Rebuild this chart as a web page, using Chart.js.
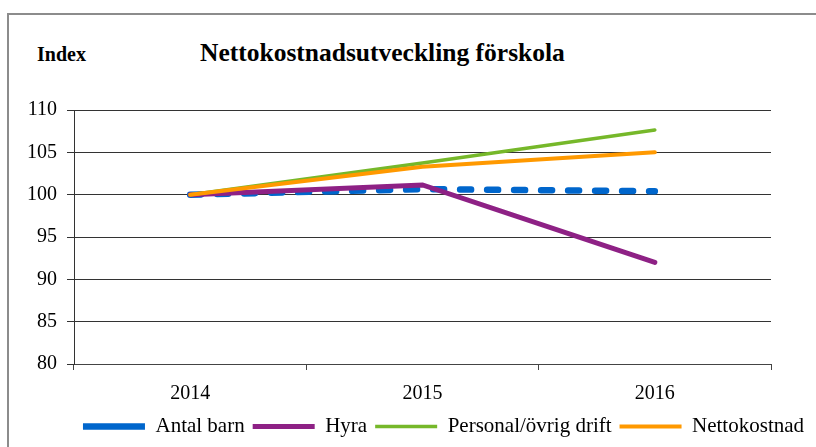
<!DOCTYPE html>
<html>
<head>
<meta charset="utf-8">
<script src="https://cdn.jsdelivr.net/npm/chart.js@4"></script>
<style>
  html, body { margin: 0; padding: 0; background: #fff; overflow: hidden; }
  #wrap { position: relative; width: 816px; height: 447px; }
  #frame { position: absolute; left: 7px; top: 13px; width: 900px; height: 500px; border: 2px solid #8c8c8c; }
  #index { position: absolute; left: 37px; top: 43px; font-family: "Liberation Serif", serif; font-weight: bold; font-size: 20px; }
  #title { position: absolute; left: 200px; top: 38px; font-family: "Liberation Serif", serif; font-weight: bold; font-size: 25.5px; white-space: nowrap; }
  canvas { position: absolute; left: 0; top: 0; }
</style>
</head>
<body>
<div id="wrap">
  <div id="frame"></div>
  <div id="index">Index</div>
  <div id="title">Nettokostnadsutveckling förskola</div>
  <canvas id="chart" width="816" height="447"></canvas>
</div>
<script>
// data
const years = ["2014", "2015", "2016"];
const antalBarn = [100, 100.65, 100.4];
const hyra = [100, 101.15, 92.0];
const personal = [100, 103.75, 107.65];
const nettokostnad = [100, 103.3, 105.0];

const serif = "'Liberation Serif', 'Times New Roman', serif";

// legend sits a bit right of the plot centre in the original
const shiftLegend = {
  id: "shiftLegend",
  afterLayout(chart) {
    chart.legend.left += 58;
    chart.legend.right += 58;
  }
};

const ctx = document.getElementById("chart");
new Chart(ctx, {
  type: "line",
  data: {
    labels: years,
    datasets: [
      { label: "Antal barn", data: antalBarn, borderColor: "#0066cc", backgroundColor: "#0066cc",
        borderWidth: 6.5, borderDash: [11, 16], borderCapStyle: "round", order: 4 },
      { label: "Hyra", data: hyra, borderColor: "#8e2185", backgroundColor: "#8e2185",
        borderWidth: 5, borderCapStyle: "round", order: 3 },
      { label: "Personal/övrig drift", data: personal, borderColor: "#76b82a", backgroundColor: "#76b82a",
        borderWidth: 3.5, borderCapStyle: "round", order: 2 },
      { label: "Nettokostnad", data: nettokostnad, borderColor: "#ff9900", backgroundColor: "#ff9900",
        borderWidth: 4, borderCapStyle: "round", order: 1 }
    ]
  },
  options: {
    responsive: false,
    animation: false,
    elements: { point: { radius: 0 }, line: { tension: 0 } },
    layout: { padding: { left: 0, right: 45, top: 110, bottom: 0 } },
    plugins: {
      tooltip: { enabled: false },
      legend: {
        position: "bottom",
        labels: {
          usePointStyle: true,
          pointStyle: "line",
          pointStyleWidth: 62,
          color: "#000",
          font: { family: serif, size: 21 },
          padding: 8,
          sort: (a, b) => a.datasetIndex - b.datasetIndex
        }
      }
    },
    scales: {
      x: {
        offset: true,
        grid: { display: true, drawOnChartArea: false, drawTicks: true, tickLength: 6, color: "#444", offset: true },
        border: { display: true, color: "#444", width: 1 },
        ticks: { color: "#000", font: { family: serif, size: 20 }, padding: 12 },
        afterFit: s => { s.height = 44; }
      },
      y: {
        min: 80,
        max: 110,
        ticks: { stepSize: 5, color: "#000", font: { family: serif, size: 20 }, padding: 10 },
        grid: { color: "#333", lineWidth: 1, tickLength: 7 },
        border: { display: true, color: "#333", width: 1 },
        afterFit: s => { s.width = 74; }
      }
    }
  },
  plugins: [shiftLegend]
});
</script>
</body>
</html>
